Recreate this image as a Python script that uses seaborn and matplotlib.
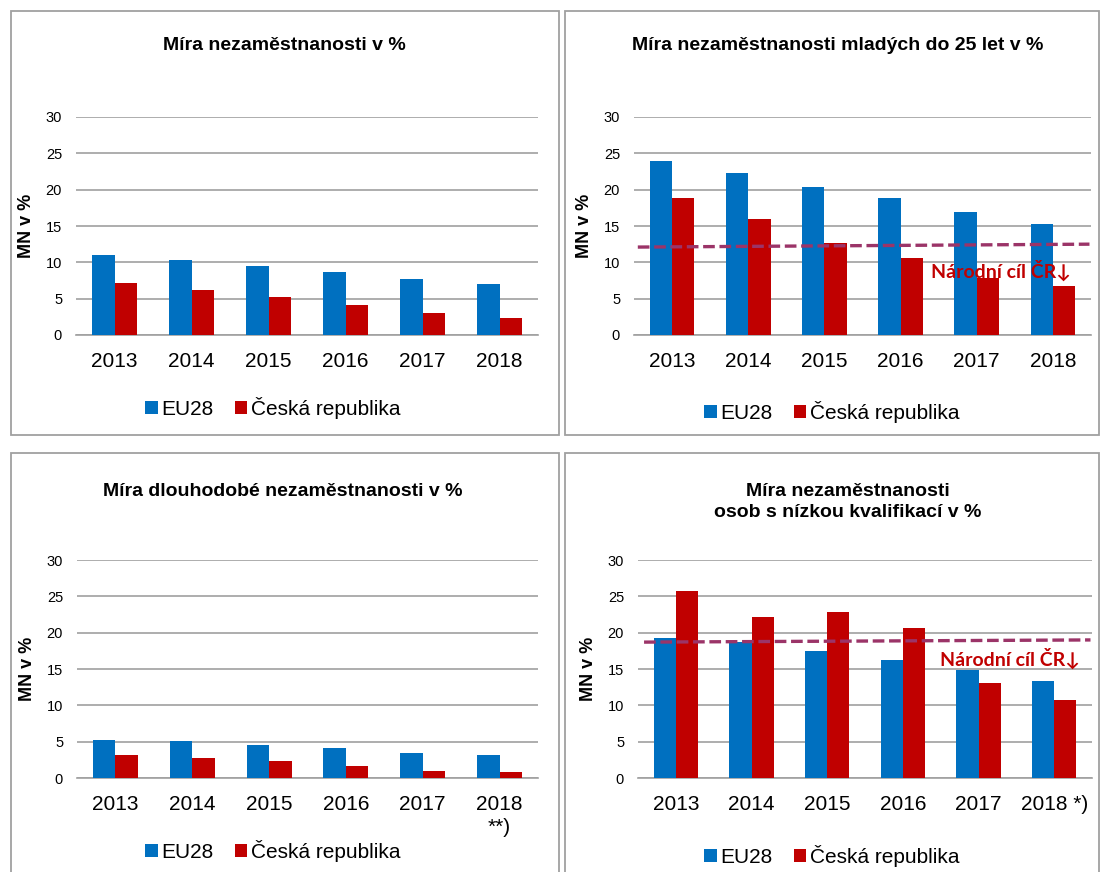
import pandas as pd, numpy as np
import matplotlib
matplotlib.use('Agg')
import matplotlib.pyplot as plt
from matplotlib.patches import Rectangle
import seaborn as sns

#Chart data
years = ['2013', '2014', '2015', '2016', '2017', '2018']
series_names = ['EU28', 'Česká republika']

total_eu = [11.0, 10.3, 9.5, 8.7, 7.7, 7.0]
total_cz = [7.1, 6.2, 5.2, 4.1, 3.0, 2.3]

young_eu = [23.9, 22.3, 20.4, 18.8, 16.9, 15.3]
young_cz = [18.9, 16.0, 12.7, 10.6, 7.9, 6.8]
young_target = [12.1, 12.5]

longterm_eu = [5.2, 5.1, 4.6, 4.1, 3.5, 3.1]
longterm_cz = [3.1, 2.7, 2.4, 1.7, 1.0, 0.8]

lowskill_eu = [19.3, 18.7, 17.5, 16.2, 14.9, 13.4]
lowskill_cz = [25.7, 22.1, 22.8, 20.6, 13.1, 10.8]
lowskill_target = [18.7, 19.0]

titles = ['Míra nezaměstnanosti v %',
          'Míra nezaměstnanosti mladých do 25 let v %',
          'Míra dlouhodobé nezaměstnanosti v %',
          'Míra nezaměstnanosti\nosob s nízkou kvalifikací v %']
xlabels_total = years
xlabels_longterm = years[:-1] + ['2018\n**)']
xlabels_lowskill = years[:-1] + ['2018 *)']
target_label = 'Národní cíl ČR↓'

BLUE = '#0070C0'
RED = '#C00000'
GRID = '#A0A0A0'
TARGET = '#9B3468'

sns.set_style("white")
plt.rcParams['font.family'] = ['Liberation Sans', 'DejaVu Sans']
plt.rcParams['text.color'] = 'black'
plt.rcParams['xtick.color'] = 'black'
plt.rcParams['ytick.color'] = 'black'
plt.rcParams['axes.labelcolor'] = 'black'

W, H = 1101, 872
fig = plt.figure(figsize=(W / 100, H / 100), dpi=100)

def fig_rect(x0, y0, x1, y1):
	return [x0 / W, 1 - y1 / H, (x1 - x0) / W, (y1 - y0) / H]

#panel frames
for (x0, y0, x1, y1) in [(11, 11, 559, 435), (565, 11, 1099, 435), (11, 453, 559, 885), (565, 453, 1099, 885)]:
	fig.patches.append(Rectangle((x0 / W, 1 - y1 / H), (x1 - x0) / W, (y1 - y0) / H,
		transform=fig.transFigure, fill=False, edgecolor='#A0A0A0', linewidth=1.3))

panels = [
	dict(eu=total_eu, cz=total_cz, title=titles[0], labels=xlabels_total, rect=(76, 117, 538, 335),
		title_xy=(284, 45), legend_xy=(273, 408), target=None),
	dict(eu=young_eu, cz=young_cz, title=titles[1], labels=xlabels_total, rect=(634, 117, 1091, 335),
		title_xy=(838, 45), legend_xy=(832, 412), target=young_target, tx=(-0.45, 5.48), label_pos=(4.32, 8.9)),
	dict(eu=longterm_eu, cz=longterm_cz, title=titles[2], labels=xlabels_longterm, rect=(77, 560, 538, 778),
		title_xy=(283, 492), legend_xy=(273, 851), target=None),
	dict(eu=lowskill_eu, cz=lowskill_cz, title=titles[3], labels=xlabels_lowskill, rect=(638, 560, 1092, 778),
		title_xy=(848, 502), legend_xy=(832, 856), target=lowskill_target, tx=(-0.42, 5.48), label_pos=(4.41, 16.5)),
]

for p in panels:
	x0, y0, x1, y1 = p['rect']
	ax = fig.add_axes(fig_rect(x0, y0, x1, y1))
	df = pd.DataFrame({'year': years * 2,
		'series': [series_names[0]] * 6 + [series_names[1]] * 6,
		'value': p['eu'] + p['cz']})
	sns.barplot(data=df, x='year', y='value', hue='series', palette=[BLUE, RED],
		width=0.585, saturation=1, linewidth=0, edgecolor='none', ax=ax, zorder=3)
	ax.set_ylim(0, 30)
	ax.set_xlim(-0.5, 5.5)
	ax.set_yticks(range(0, 31, 5))
	ax.yaxis.grid(True, color=GRID, linewidth=1.2)
	ax.set_axisbelow(True)
	for s in ['top', 'right', 'left']:
		ax.spines[s].set_visible(False)
	ax.spines['bottom'].set_color(GRID)
	ax.spines['bottom'].set_linewidth(1.2)
	ax.tick_params(axis='both', length=0)
	ax.tick_params(axis='y', labelsize=10.5, pad=10)
	ax.tick_params(axis='x', labelsize=15, pad=12)
	ax.set_xticks(range(6))
	ax.set_xticklabels(p['labels'], linespacing=1.3)
	ax.set_xlabel('')
	ax.set_ylabel('MN v %', fontsize=13, fontweight='bold')
	ax.yaxis.set_label_coords(-41 / (x1 - x0), 0.5)

	if p['target'] is not None:
		ax.plot(list(p['tx']), p['target'], color=TARGET, linewidth=2.4, dashes=(3.5, 1.4), zorder=4)
		ax.text(p['label_pos'][0], p['label_pos'][1], target_label, color=RED, fontsize=14,
			fontweight='bold', ha='center', va='center', family=['Lato', 'DejaVu Sans'], zorder=5)

	lx, ly = p['legend_xy']
	sns.move_legend(ax, 'center', bbox_to_anchor=(lx / W, 1 - ly / H),
		bbox_transform=fig.transFigure, ncol=2, frameon=False, title=None, fontsize=15,
		handlelength=0.6, handleheight=0.6, handletextpad=0.2, columnspacing=1.0)

	tx, ty = p['title_xy']
	fig.text(tx / W, 1 - ty / H, p['title'], ha='center', va='center', fontsize=14, fontweight='bold',
		linespacing=1.35)

fig.savefig('out.png', dpi=100)
